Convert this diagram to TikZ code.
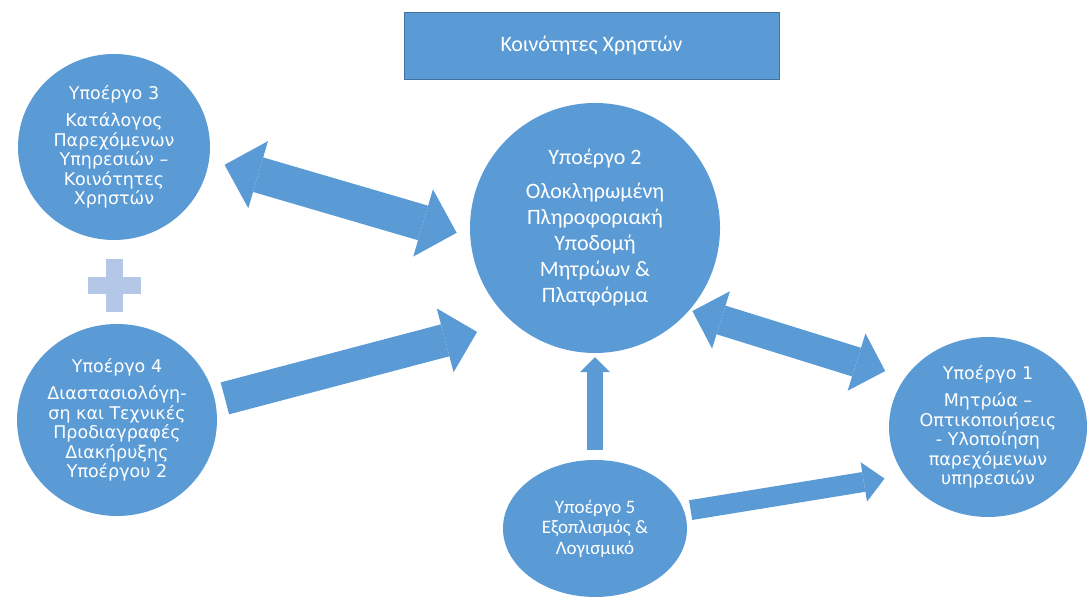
\documentclass[tikz,border=0pt]{standalone}
\usepackage{fontspec}
\setmainfont{Carlito}
\newfontfamily\gothic{DejaVu Sans}
\usepackage{tikz}
\usetikzlibrary{shapes.geometric}
\usetikzlibrary{arrows.meta}

\definecolor{subblue}{HTML}{5B9BD5}
\definecolor{subedge}{HTML}{41719C}
\definecolor{pluscol}{HTML}{B4C7E7}

\tikzset{
  bubble/.style={ellipse, fill=subblue, text=white, align=center, inner sep=0pt},
  gothictext/.style={font=\gothic\fontsize{17.5}{19.5}\selectfont},
  fatline/.style={draw=subblue, line width=#1},
  onehead/.style 2 args={-{Triangle[width=#1,length=#2,line width=0pt]}},
  twohead/.style 2 args={{Triangle[width=#1,length=#2,line width=0pt]}-{Triangle[width=#1,length=#2,line width=0pt]}},
}

\begin{document}
\begin{tikzpicture}[x=1pt, y=1pt]

\useasboundingbox (0,0) rectangle (1089,601);

%% top box
\node at (591.5,555.5) [rectangle, draw=subedge, fill=subblue, text=white, minimum width=375pt, minimum height=67pt, font=\fontsize{22}{26}\selectfont] (users) {Κοινότητες Χρηστών};

%% sub-projects
\node at (114,454) [bubble, gothictext, minimum width=192pt, minimum height=186pt] (sub3) {Υποέργο 3\\[8pt]Κατάλογος\\Παρεχόμενων\\Υπηρεσιών –\\Κοινότητες\\Χρηστών};
\node at (117,181) [bubble, gothictext, minimum width=200pt, minimum height=192pt] (sub4) {Υποέργο 4\\[8pt]Διαστασιολόγη-\\ση και Τεχνικές\\Προδιαγραφές\\Διακήρυξης\\Υποέργου 2};
\node at (595,373) [bubble, minimum width=250pt, minimum height=250pt, font=\fontsize{22}{26}\selectfont] (sub2) {Υποέργο 2\\[8pt]Ολοκληρωμένη\\Πληροφοριακή\\Υποδομή\\Μητρώων \&\\Πλατφόρμα};
\node at (988,174) [bubble, gothictext, minimum width=198pt, minimum height=180pt] (sub1) {Υποέργο 1\\[8pt]Μητρώα –\\Οπτικοποιήσεις\\- Υλοποίηση\\παρεχόμενων\\υπηρεσιών};
\node at (595,72.5) [bubble, minimum width=184pt, minimum height=137pt, font=\fontsize{19}{20.5}\selectfont] (sub5) {Υποέργο 5\\Εξοπλισμός \&\\Λογισμικό};

%% plus sign
\fill[pluscol] (88,307) rectangle (141,324);
\fill[pluscol] (106,289) rectangle (123,342);

\begin{scope}[fatline=30pt]
	\draw [fatline=36pt, twohead={70pt}{35pt}, shorten <=16pt, shorten >=14pt] (sub3.-8) -- (sub2.184);
	\draw [fatline=30pt, twohead={60pt}{30pt}, shorten <=3pt, shorten >=21pt] (sub2.-41) -- (sub1.149);
	\draw [fatline=33pt, onehead={66pt}{33pt}, shorten <=10pt, shorten >=37pt] (sub4.11) -- (sub2.229);
	\draw [fatline=16pt, onehead={30pt}{15pt}, shorten <=10pt, shorten >=4pt] (sub5.north) -- (sub2.south);
	\draw [fatline=20pt, onehead={40pt}{21pt}, shorten <=6.5pt, shorten >=20pt] (sub5.11.6) -- (sub1.210);
\end{scope}

\end{tikzpicture}
\end{document}
